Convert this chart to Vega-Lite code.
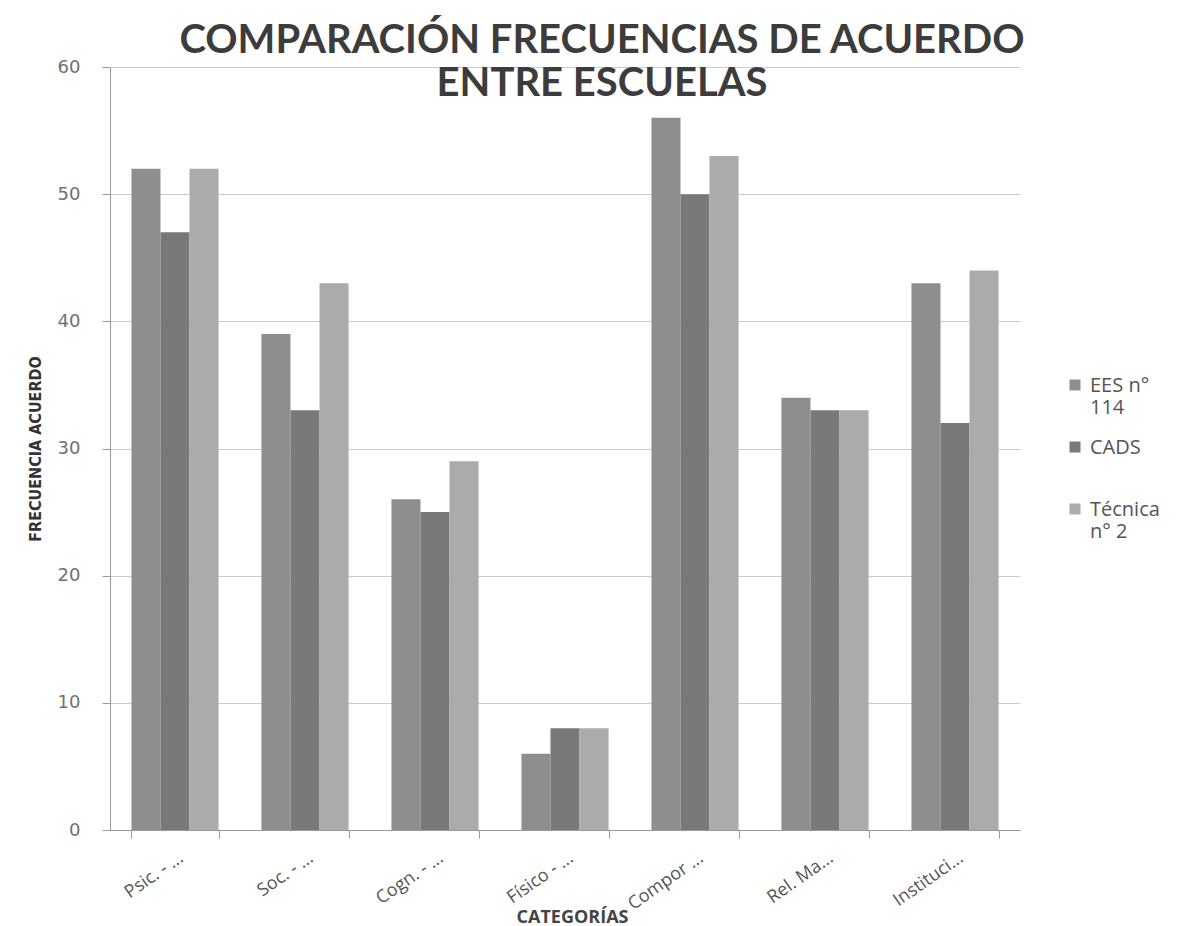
{
  "$schema": "https://vega.github.io/schema/vega-lite/v6.json",
  "width": 910,
  "height": 763,
  "autosize": {"type": "none"},
  "padding": {"left": 110, "top": 67, "right": 164, "bottom": 96},
  "background": "white",
  "title": {
    "text": ["COMPARACIÓN FRECUENCIAS DE ACUERDO", "ENTRE ESCUELAS"],
    "font": "Lato",
    "fontSize": 40,
    "fontWeight": "bold",
    "color": "#3c3c3c",
    "anchor": "middle",
    "frame": "group",
    "baseline": "top",
    "lineHeight": 43,
    "dx": 37,
    "dy": 0,
    "offset": -46
  },
  "data": {
    "values": [
      {"categoria": "Psic. - ...", "escuela": "EES n° 114", "valor": 52},
      {"categoria": "Psic. - ...", "escuela": "CADS", "valor": 47},
      {"categoria": "Psic. - ...", "escuela": "Técnica n° 2", "valor": 52},
      {"categoria": "Soc. - ...", "escuela": "EES n° 114", "valor": 39},
      {"categoria": "Soc. - ...", "escuela": "CADS", "valor": 33},
      {"categoria": "Soc. - ...", "escuela": "Técnica n° 2", "valor": 43},
      {"categoria": "Cogn. - ...", "escuela": "EES n° 114", "valor": 26},
      {"categoria": "Cogn. - ...", "escuela": "CADS", "valor": 25},
      {"categoria": "Cogn. - ...", "escuela": "Técnica n° 2", "valor": 29},
      {"categoria": "Físico - ...", "escuela": "EES n° 114", "valor": 6},
      {"categoria": "Físico - ...", "escuela": "CADS", "valor": 8},
      {"categoria": "Físico - ...", "escuela": "Técnica n° 2", "valor": 8},
      {"categoria": "Compor ...", "escuela": "EES n° 114", "valor": 56},
      {"categoria": "Compor ...", "escuela": "CADS", "valor": 50},
      {"categoria": "Compor ...", "escuela": "Técnica n° 2", "valor": 53},
      {"categoria": "Rel. Ma...", "escuela": "EES n° 114", "valor": 34},
      {"categoria": "Rel. Ma...", "escuela": "CADS", "valor": 33},
      {"categoria": "Rel. Ma...", "escuela": "Técnica n° 2", "valor": 33},
      {"categoria": "Instituci...", "escuela": "EES n° 114", "valor": 43},
      {"categoria": "Instituci...", "escuela": "CADS", "valor": 32},
      {"categoria": "Instituci...", "escuela": "Técnica n° 2", "valor": 44}
    ]
  },
  "mark": {"type": "bar"},
  "encoding": {
    "x": {
      "field": "categoria",
      "type": "nominal",
      "sort": null,
      "scale": {"paddingInner": 0.33, "paddingOuter": 0.165},
      "axis": {
        "title": "CATEGORÍAS",
        "titleFont": "Open Sans",
        "titleFontSize": 18,
        "titleFontWeight": "bold",
        "titleColor": "#444444",
        "titleBaseline": "alphabetic",
        "titleY": 92,
        "titleX": 462,
        "labelAngle": -35,
        "labelAlign": "right",
        "labelBaseline": "middle",
        "labelFont": "Open Sans",
        "labelFontSize": 18,
        "labelColor": "#555555",
        "labelPadding": 18,
        "labelOffset": 6,
        "tickBand": "extent",
        "tickSize": 8,
        "tickColor": "#999999",
        "domainColor": "#999999"
      }
    },
    "xOffset": {"field": "escuela", "type": "nominal", "sort": ["EES n° 114", "CADS", "Técnica n° 2"], "scale": {"paddingInner": 0, "paddingOuter": 0}},
    "y": {
      "field": "valor",
      "type": "quantitative",
      "scale": {"domain": [0, 60]},
      "axis": {
        "title": "FRECUENCIA ACUERDO",
        "titleFont": "DejaVu Sans Condensed",
        "titleFontSize": 16,
        "titleFontWeight": "bold",
        "titleColor": "#333333",
        "titlePadding": 14,
        "values": [0, 10, 20, 30, 40, 50, 60],
        "labelFont": "DejaVu Sans",
        "labelFontSize": 18,
        "labelColor": "#707070",
        "labelPadding": 22,
        "tickSize": 8,
        "tickColor": "#999999",
        "domainColor": "#999999",
        "gridColor": "#cccccc",
        "grid": true
      }
    },
    "color": {
      "field": "escuela",
      "type": "nominal",
      "sort": ["EES n° 114", "CADS", "Técnica n° 2"],
      "scale": {"domain": ["EES n° 114", "CADS", "Técnica n° 2"], "range": ["#8e8e8e", "#797979", "#ababab"]},
      "legend": {
        "title": null,
        "orient": "none",
        "legendX": 955,
        "legendY": 308,
        "symbolType": "square",
        "symbolSize": 121,
        "symbolStrokeWidth": 0,
        "labelFont": "Open Sans",
        "labelFontSize": 20,
        "labelColor": "#555555",
        "labelBaseline": "top",
        "labelOffset": 5,
        "rowPadding": 19,
        "symbolOffset": 0,
        "labelExpr": "datum.label == 'EES n° 114' ? ['EES n°', '114'] : datum.label == 'Técnica n° 2' ? ['Técnica', 'n° 2'] : ['CADS', ' ']",
        "encode": {"labels": {"update": {"dy": {"value": -9}}}}
      }
    }
  },
  "config": {
    "view": {"stroke": null}
  }
}
